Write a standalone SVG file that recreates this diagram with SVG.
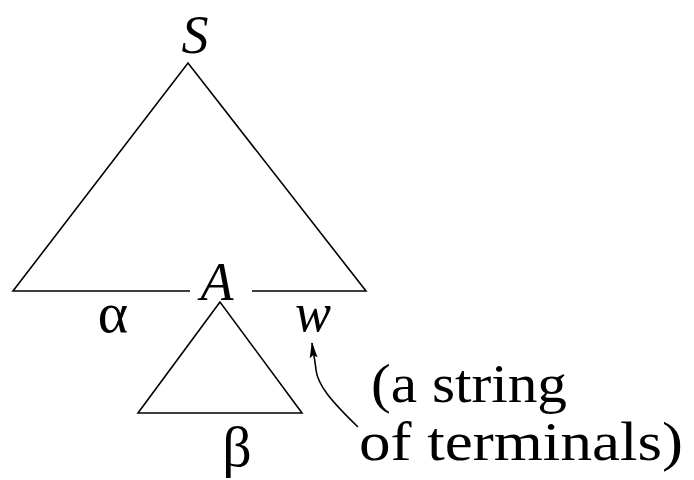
<svg xmlns="http://www.w3.org/2000/svg" width="694" height="480" viewBox="0 0 694 480">
<style>
.ln{fill:none;stroke:#000;stroke-width:1.6;stroke-linejoin:miter}
.it{font-family:"Liberation Serif",serif;font-style:italic;font-size:54px;fill:#000}
.rm{font-family:"Liberation Serif",serif;font-size:54px;fill:#000}
.gk{font-family:"Liberation Serif",serif;font-size:58px;fill:#000}
</style>
<defs>
<marker id="ah" viewBox="0 0 16 10" refX="15" refY="5" markerWidth="16" markerHeight="10" markerUnits="userSpaceOnUse" orient="auto">
<path d="M0,1 L16,5 L0,9 L3,5 Z" fill="#000"/>
</marker>
</defs>
<rect width="694" height="480" fill="#fff"/>
<g id="connectors">
<path class="ln" d="M190,291 L13,291 L188,63 L366,291 L252,291"/>
<path class="ln" d="M220,302 L138,413 L302,413 Z"/>
<path class="ln" d="M358,427 C330,400 318,385 316,370 C315,360 313,352 312,343" marker-end="url(#ah)"/>
</g>
<g id="S"><text class="it" x="195" y="53" text-anchor="middle">S</text></g>
<g id="A"><text class="it" x="217" y="300" text-anchor="middle">A</text></g>
<g id="alpha"><text class="gk" x="113" y="332" text-anchor="middle">α</text></g>
<g id="w"><text class="it" x="313" y="331" text-anchor="middle">w</text></g>
<g id="beta"><text class="gk" x="237" y="466" text-anchor="middle">β</text></g>
<g id="note">
<text class="rm" x="371" y="402" textLength="196" lengthAdjust="spacingAndGlyphs">(a string</text>
<text class="rm" x="359" y="460" textLength="324" lengthAdjust="spacingAndGlyphs">of terminals)</text>
</g>
</svg>
